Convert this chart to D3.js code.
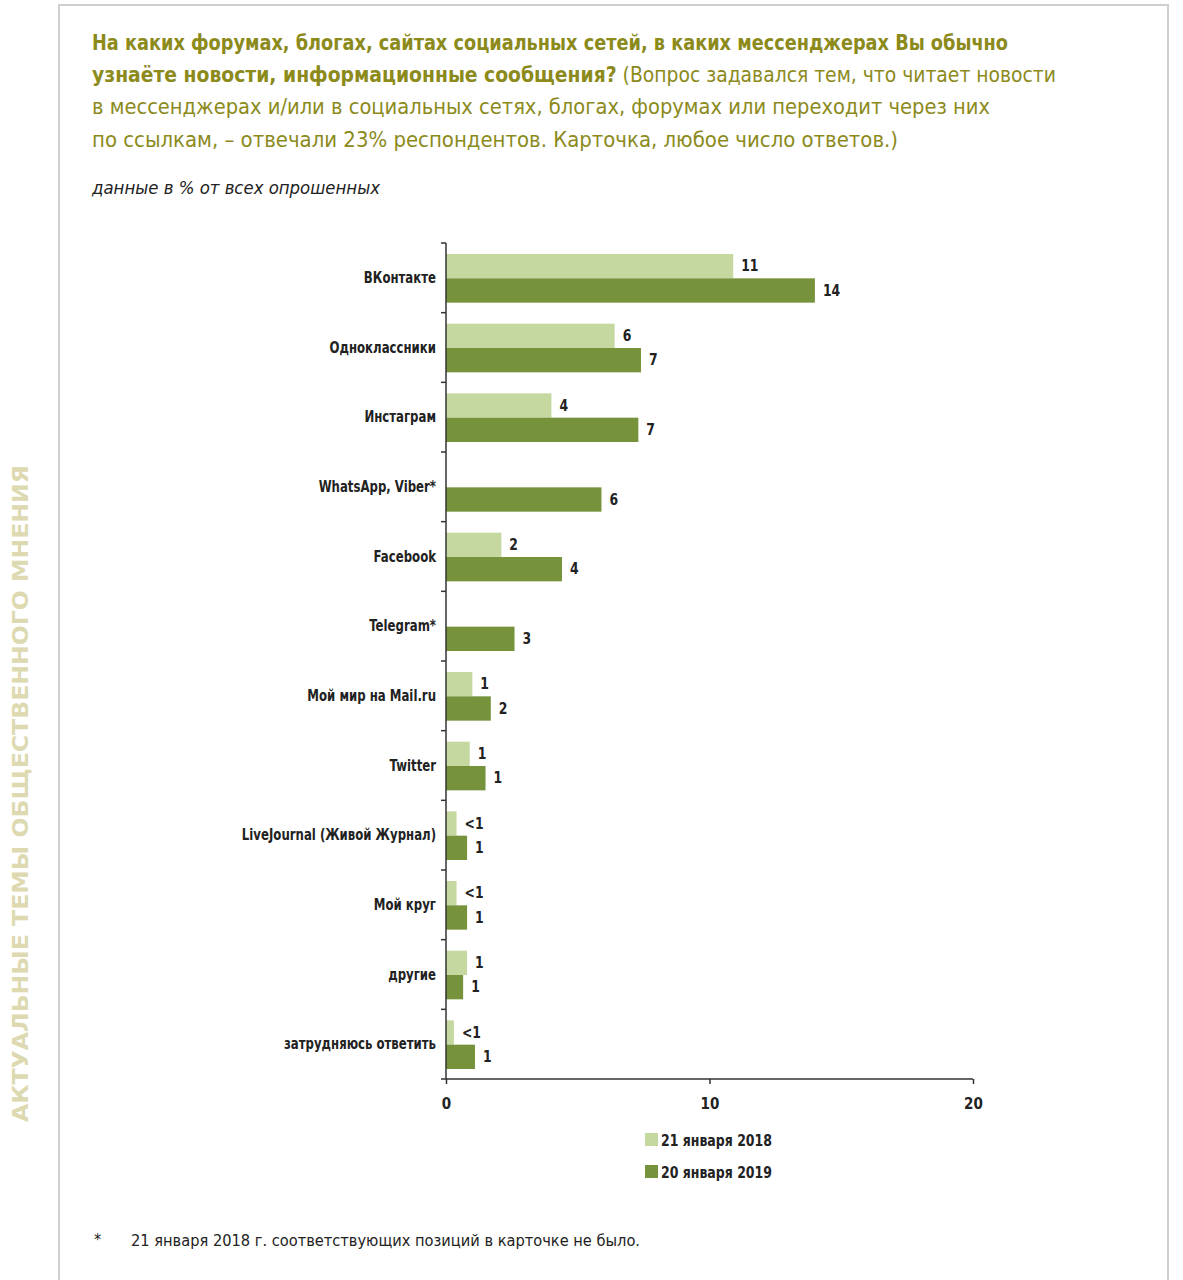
<!DOCTYPE html>
<html>
<head>
<meta charset="utf-8">
<script src="https://cdn.jsdelivr.net/npm/d3@7"></script>
<style>
  body { margin: 0; background: #fff; }
  svg { display: block; }
  text { font-family: "Liberation Sans Narrow", "DejaVu Sans Condensed", "Open Sans", sans-serif; }
</style>
</head>
<body>
<div id="chart"></div>
<script>
// categories (top to bottom)
const categories = ["ВКонтакте", "Одноклассники", "Инстаграм", "WhatsApp, Viber*", "Facebook",
  "Telegram*", "Мой мир на Mail.ru", "Twitter", "LiveJournal (Живой Журнал)", "Мой круг",
  "другие", "затрудняюсь ответить"];
const seriesNames = ["21 января 2018", "20 января 2019"];
// bar lengths
const values2018 = [10.9, 6.4, 4.0, null, 2.1, null, 1.0, 0.9, 0.4, 0.4, 0.8, 0.3];
const values2019 = [14.0, 7.4, 7.3, 5.9, 4.4, 2.6, 1.7, 1.5, 0.8, 0.8, 0.65, 1.1];
// printed labels
const labels2018 = ["11", "6", "4", null, "2", null, "1", "1", "<1", "<1", "1", "<1"];
const labels2019 = ["14", "7", "7", "6", "4", "3", "2", "1", "1", "1", "1", "1"];
const xTicks = [0, 10, 20];
const colors = ["#c5d89f", "#76933b"];

const W = 1183, H = 1280;
const sx = 0.87; // squeeze to mimic the condensed face
const svg = d3.select("#chart").append("svg").attr("width", W).attr("height", H);

// frame
svg.append("rect").attr("x", 59).attr("y", 5).attr("width", 1109).attr("height", H)
  .attr("fill", "none").attr("stroke", "#cfcfcf").attr("stroke-width", 2);

// side caption
svg.append("text")
  .attr("transform", "translate(28,1122) rotate(-90)")
  .attr("textLength", 657).attr("lengthAdjust", "spacingAndGlyphs")
  .attr("font-size", 22).attr("font-weight", "bold").attr("fill", "#ddd9b0")
  .text("АКТУАЛЬНЫЕ ТЕМЫ ОБЩЕСТВЕННОГО МНЕНИЯ");

// title
const titleColor = "#8b8a1b";
const titleLines = [
  { y: 50, w: 916, parts: [["На каких форумах, блогах, сайтах социальных сетей, в каких мессенджерах Вы обычно", true]] },
  { y: 82, w: 964, parts: [["узнаёте новости, информационные сообщения?", true], [" (Вопрос задавался тем, что читает новости", false]] },
  { y: 114, w: 898, parts: [["в мессенджерах и/или в социальных сетях, блогах, форумах или переходит через них", false]] },
  { y: 147, w: 806, parts: [["по ссылкам, – отвечали 23% респондентов. Карточка, любое число ответов.)", false]] }
];
titleLines.forEach(l => {
  const t = svg.append("text").attr("x", 92).attr("y", l.y)
    .attr("font-size", 22).attr("fill", titleColor)
    .attr("textLength", l.w).attr("lengthAdjust", "spacingAndGlyphs");
  l.parts.forEach(p => t.append("tspan").attr("font-weight", p[1] ? "bold" : "normal").text(p[0]));
});

svg.append("text").attr("x", 92).attr("y", 194)
  .attr("font-size", 17).attr("font-style", "italic").attr("fill", "#222")
  .attr("textLength", 288).attr("lengthAdjust", "spacingAndGlyphs")
  .text("данные в % от всех опрошенных");

// scales
const x = d3.scaleLinear().domain([0, 20]).range([446, 973]);
const y = d3.scaleBand().domain(categories).range([243, 1079]);
const inner = d3.scaleBand().domain([0, 1]).range([11, y.bandwidth() - 10]);

const rows = categories.map((c, i) => ({
  cat: c,
  bars: [
    { s: 0, v: values2018[i], lab: labels2018[i] },
    { s: 1, v: values2019[i], lab: labels2019[i] }
  ].filter(b => b.v != null)
}));

const g = svg.append("g");
const row = g.selectAll("g.row").data(rows).join("g")
  .attr("transform", d => `translate(0,${y(d.cat)})`);

row.selectAll("rect").data(d => d.bars).join("rect")
  .attr("x", x(0)).attr("y", d => inner(d.s))
  .attr("width", d => x(d.v) - x(0)).attr("height", inner.bandwidth())
  .attr("fill", d => colors[d.s]);

row.selectAll("text.val").data(d => d.bars).join("text").attr("class", "val")
  .attr("transform", d => `translate(${x(d.v) + 8},${inner(d.s) + inner.bandwidth() / 2}) scale(0.92,1)`)
  .attr("dy", "0.35em").attr("font-size", 15).attr("font-weight", "bold").attr("fill", "#222")
  .text(d => d.lab);

// y axis
const yAxis = g.append("g").attr("transform", `translate(${x(0)},0)`);
yAxis.append("line").attr("y1", 243).attr("y2", 1079).attr("stroke", "#333").attr("stroke-width", 1.5);
yAxis.selectAll("line.tk").data(categories).join("line").attr("class", "tk")
  .attr("x1", -5).attr("x2", 0).attr("y1", d => y(d)).attr("y2", d => y(d))
  .attr("stroke", "#333").attr("stroke-width", 1.5);
yAxis.selectAll("text").data(categories).join("text")
  .attr("transform", d => `translate(-10,${y(d) + y.bandwidth() / 2}) scale(${sx},1)`)
  .attr("dy", "0.35em")
  .attr("text-anchor", "end").attr("font-size", 15).attr("font-weight", "bold").attr("fill", "#222")
  .text(d => d);

// x axis
const xAxis = g.append("g").attr("transform", "translate(0,1079)")
  .call(d3.axisBottom(x).tickValues(xTicks).tickSize(5).tickPadding(14));
xAxis.select(".domain").attr("stroke", "#333").attr("stroke-width", 1.5).attr("d", `M${x(0) - 5},0H${x(20)}`);
xAxis.selectAll(".tick line").attr("stroke", "#333").attr("stroke-width", 1.5);
xAxis.selectAll(".tick text").attr("font-size", 15).attr("font-weight", "bold").attr("fill", "#222")
  .attr("font-family", null);

// legend
const leg = svg.append("g").selectAll("g").data(seriesNames).join("g")
  .attr("transform", (d, i) => `translate(645,${1133 + i * 32})`);
leg.append("rect").attr("width", 13).attr("height", 13).attr("fill", (d, i) => colors[i]);
leg.append("text").attr("transform", `translate(16,7) scale(${sx},1)`).attr("dy", "0.35em")
  .attr("font-size", 16).attr("font-weight", "bold").attr("fill", "#222").text(d => d);

// footnote
svg.append("text").attr("x", 94).attr("y", 1245).attr("font-size", 16).attr("fill", "#222").text("*");
svg.append("text").attr("x", 131).attr("y", 1246).attr("font-size", 16).attr("fill", "#222")
  .attr("textLength", 509).attr("lengthAdjust", "spacingAndGlyphs")
  .text("21 января 2018 г. соответствующих позиций в карточке не было.");
</script>
</body>
</html>
